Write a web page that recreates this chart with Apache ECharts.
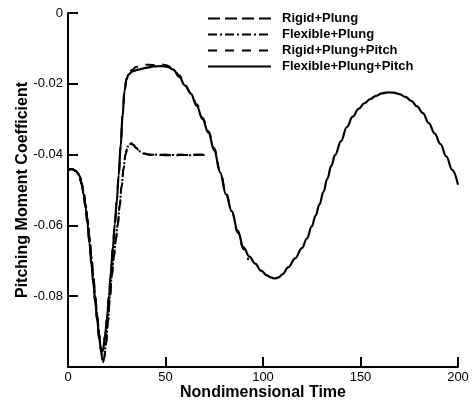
<!DOCTYPE html>
<html>
<head>
<meta charset="utf-8">
<script src="https://cdn.jsdelivr.net/npm/echarts@6/dist/echarts.min.js"></script>
<style>
  html, body { margin: 0; padding: 0; background: #fff; }
  #chart { width: 472px; height: 403px; }
</style>
</head>
<body>
<div id="chart"></div>
<script>
// Pitching moment histories: [nondimensional time, Cm]
const seriesNames = ['Rigid+Plung', 'Flexible+Plung', 'Rigid+Plung+Pitch', 'Flexible+Plung+Pitch'];

const xTicks = [0, 50, 100, 150, 200];
const yTicks = [0, -0.02, -0.04, -0.06, -0.08];

const rigidPlung = [
  [0, -0.0443], [2, -0.0441], [4, -0.0446], [5, -0.0452], [6, -0.0461], [7, -0.0481],
  [8, -0.0506], [9, -0.0540], [10, -0.0582], [11, -0.0632], [12, -0.0688], [13, -0.0744],
  [14, -0.0800], [15, -0.0855], [16, -0.0908], [17, -0.0958], [17.8, -0.0988], [18.5, -0.0976],
  [19.5, -0.0936], [20.5, -0.0872], [21.5, -0.0802], [22.5, -0.0742], [23.5, -0.0688],
  [24.5, -0.0642], [25.5, -0.0600], [26.5, -0.0545], [27.5, -0.0490], [28.5, -0.0440],
  [29.5, -0.0400], [30.5, -0.0379], [31.5, -0.0371], [32.5, -0.0369], [33.5, -0.0373],
  [35, -0.0382], [37, -0.0392], [39, -0.0397], [42, -0.0400], [46, -0.0401], [50, -0.0400],
  [54, -0.0402], [58, -0.0401], [62, -0.0401], [66, -0.0400], [70, -0.0401]
];

const flexiblePlung = [
  [0, -0.0443], [2, -0.0441], [4, -0.0446], [5, -0.0452], [6, -0.0461], [7, -0.0481],
  [8, -0.0507], [9, -0.0541], [10, -0.0583], [11, -0.0633], [12, -0.0689], [13, -0.0745],
  [14, -0.0801], [15, -0.0856], [16, -0.0909], [17, -0.0957], [17.8, -0.0986], [18.5, -0.0975],
  [19.5, -0.0934], [20.5, -0.0870], [21.5, -0.0800], [22.5, -0.0741], [23.5, -0.0687],
  [24.5, -0.0641], [25.5, -0.0598], [26.5, -0.0543], [27.5, -0.0488], [28.5, -0.0438],
  [29.5, -0.0399], [30.5, -0.0378], [31.5, -0.0370], [32.5, -0.0368], [33.5, -0.0372],
  [35, -0.0381], [37, -0.0391], [39, -0.0397], [42, -0.0401], [46, -0.0400], [50, -0.0402],
  [54, -0.0401], [58, -0.0400], [62, -0.0402], [66, -0.0401], [69, -0.0400]
];

const rigidPlungPitch = [
  [0, -0.0443], [2, -0.0441], [4, -0.0446], [5, -0.0452], [6, -0.0461], [7, -0.0484],
  [8, -0.0512], [9, -0.0550], [10, -0.0595], [11, -0.0650], [12, -0.0708], [13, -0.0763],
  [14, -0.0818], [15, -0.0870], [16, -0.0920], [17, -0.0951], [17.5, -0.0956], [18, -0.0951],
  [19, -0.0912], [20, -0.0862], [21, -0.0800], [22, -0.0732], [23, -0.0663], [24, -0.0596],
  [25, -0.0532], [26, -0.0458], [27, -0.0375], [28, -0.0288], [29, -0.0218], [30, -0.0184],
  [31, -0.0168], [33, -0.0160], [35, -0.0152], [38, -0.0151], [40, -0.0146], [44, -0.0147],
  [47, -0.0143], [50, -0.0147], [54, -0.0156], [57, -0.0176], [60, -0.0203], [63, -0.0226],
  [66, -0.0258], [69, -0.0296], [72, -0.0334], [75, -0.0382], [78, -0.0445], [81, -0.0508],
  [84, -0.0560], [87, -0.0620], [90, -0.0667], [92.5, -0.0698]
];

const flexiblePlungPitch = [
  [0, -0.0443], [2, -0.0441], [4, -0.0446], [5, -0.0452], [6, -0.0461], [7, -0.0484],
  [8, -0.0512], [9, -0.0550], [10, -0.0595], [11, -0.0650], [12, -0.0708], [13, -0.0763],
  [14, -0.0818], [15, -0.0870], [16, -0.0920], [17, -0.0951], [17.5, -0.0956], [18, -0.0951],
  [19, -0.0912], [20, -0.0862], [21, -0.0800], [22, -0.0732], [23, -0.0663], [24, -0.0596],
  [25, -0.0532], [26, -0.0458], [27, -0.0375], [28, -0.0288], [29, -0.0220], [30, -0.0188],
  [31, -0.0174], [33, -0.0165], [36, -0.0160], [40, -0.0155], [44, -0.0151], [48, -0.0150],
  [51, -0.0152], [54, -0.0160], [57, -0.0180], [60, -0.0205], [63, -0.0228], [66, -0.0262],
  [69, -0.0300], [72, -0.0338], [75, -0.0388], [78, -0.0450], [81, -0.0512], [84, -0.0560],
  [87, -0.0615], [90, -0.0662], [93, -0.0688], [96, -0.0708], [99, -0.0728], [102, -0.0741],
  [104, -0.0747], [106, -0.0750], [108, -0.0747], [110, -0.0738], [113, -0.0718],
  [116.5, -0.0693], [120, -0.0664], [122.5, -0.0637], [125, -0.0603], [127, -0.0572],
  [129, -0.0540], [131, -0.0505], [133, -0.0468], [135, -0.0432], [137, -0.0401],
  [140, -0.0362], [143, -0.0322], [146, -0.0293], [149, -0.0271], [152, -0.0255],
  [155, -0.0243], [158, -0.0234], [161, -0.0227], [164, -0.0224], [167, -0.0225],
  [170, -0.0229], [173, -0.0237], [176, -0.0248], [179, -0.0264], [182, -0.0283],
  [185, -0.0311], [188, -0.0340], [191, -0.0370], [194, -0.0405], [197, -0.0443], [200, -0.0485]
];

const FONT = '"Liberation Sans", Arial, Helvetica, sans-serif';
const chart = echarts.init(document.getElementById('chart'), null, { renderer: 'canvas' });

function lineSeries(name, data, dash, width) {
  return {
    name: name,
    type: 'line',
    data: data,
    symbol: 'none',
    smooth: 0.4,
    smoothMonotone: 'x',
    lineStyle: { color: '#000', width: width, type: dash, cap: 'butt' },
    itemStyle: { color: '#000' },
    emphasis: { disabled: true },
    animation: false
  };
}

const axisCommon = {
  axisLine: { show: true, onZero: false, lineStyle: { color: '#000', width: 2 } },
  axisTick: { show: true, inside: true, length: 10, lineStyle: { color: '#000', width: 2 } },
  splitLine: { show: false },
  nameMoveOverlap: false,
  nameTextStyle: { color: '#000', fontFamily: FONT, fontSize: 16, fontWeight: 'bold' }
};

chart.setOption({
  animation: false,
  backgroundColor: '#fff',
  grid: { left: 68, right: 14, top: 13, bottom: 36, containLabel: false, outerBoundsMode: 'none' },
  legend: {
    orient: 'vertical',
    left: 207,
    top: 12,
    padding: 0,
    itemWidth: 63,
    itemHeight: 14,
    itemGap: 3,
    align: 'left',
    data: seriesNames,
    itemStyle: { opacity: 0, borderWidth: 0 },
    textStyle: { color: '#000', fontFamily: FONT, fontSize: 13, fontWeight: 'bold', padding: [0, 0, 0, 6] }
  },
  xAxis: Object.assign({}, axisCommon, {
    type: 'value',
    min: 0, max: 200, interval: 50,
    name: 'Nondimensional Time',
    nameLocation: 'middle',
    nameGap: 18,
    axisLabel: {
      color: '#000', fontFamily: FONT, fontSize: 13, margin: 4,
      formatter: v => xTicks.includes(v) ? String(v) : ''
    }
  }),
  yAxis: Object.assign({}, axisCommon, {
    type: 'value',
    min: -0.1, max: 0, interval: 0.02,
    name: 'Pitching Moment Coefficient',
    nameLocation: 'middle',
    nameGap: 37,
    axisLabel: {
      color: '#000', fontFamily: FONT, fontSize: 13, margin: 5,
      formatter: v => {
        const t = yTicks.find(k => Math.abs(k - v) < 1e-9);
        if (t === undefined) return '';
        return t === 0 ? '0' : t.toFixed(2);
      }
    }
  }),
  series: [
    lineSeries(seriesNames[0], rigidPlung, [12, 5], 2),
    lineSeries(seriesNames[1], flexiblePlung, [9, 3, 2, 3], 2),
    lineSeries(seriesNames[2], rigidPlungPitch, [9, 8], 2),
    lineSeries(seriesNames[3], flexiblePlungPitch, 'solid', 2.2)
  ]
});
</script>
</body>
</html>
